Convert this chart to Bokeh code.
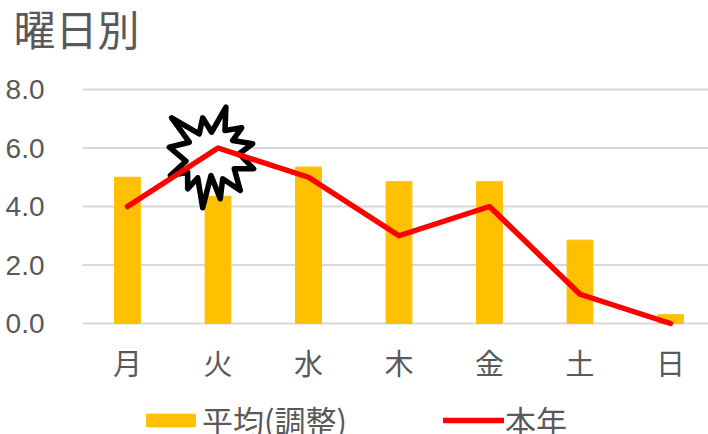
from bokeh.plotting import figure
from bokeh.embed import file_html
from bokeh.resources import INLINE
from bokeh.models import ColumnDataSource, Range1d, FixedTicker, Legend, LegendItem, Label

title_text = "曜日別"
days = ["月", "火", "水", "木", "金", "土", "日"]
avg_adjusted = [5.0, 4.35, 5.35, 4.85, 4.85, 2.85, 0.3]
this_year = [4.0, 6.0, 5.0, 3.0, 4.0, 1.0, 0.0]
y_ticks = [0, 2, 4, 6, 8]
series_names = ["平均(調整)", "本年"]
# starburst callout outline, in value units relative to its anchor (火, 5.6)
burst_dx = [-0.512, -0.207, -0.169, -0.070, 0.088, 0.077, 0.262, 0.162, 0.383, 0.235, 0.394, 0.180,
            0.246, 0.052, 0.025, -0.077, -0.169, -0.224, -0.335, -0.335, -0.527, -0.354, -0.538, -0.317]
burst_dy = [1.432, 0.885, 1.432, 0.940, 1.795, 0.998, 1.091, 0.656, 0.544, 0.202, -0.311, -0.311,
            -1.053, -0.653, -1.337, -0.540, -1.644, -0.619, -0.995, -0.427, -0.540, -0.051, 0.427, 0.598]
burst_anchor = (1, 5.6)

GREY = "#595959"
CJK = "Liberation Sans, Noto Sans CJK JP"
X_LEFT, X_RIGHT = -0.497, 6.42

p = figure(width=708, height=434, output_backend="svg", toolbar_location=None,
           x_range=Range1d(-1.403, X_RIGHT), y_range=Range1d(-3.795, 11.043),
           min_border_left=0, min_border_right=0, min_border_top=0, min_border_bottom=0)
p.outline_line_color = None
p.background_fill_color = "white"
p.border_fill_color = "white"
p.grid.visible = False

xs = list(range(len(days)))
src = ColumnDataSource(dict(x=xs, avg=avg_adjusted, yr=this_year))
p.segment(x0=[X_LEFT] * len(y_ticks), x1=[X_RIGHT] * len(y_ticks), y0=y_ticks, y1=y_ticks,
          line_color="#D9D9D9", line_width=2)
bars = p.vbar(x="x", top="avg", width=0.285, color="#FFC000", source=src)
p.patch([burst_anchor[0] + d for d in burst_dx], [burst_anchor[1] + d for d in burst_dy],
        fill_color="white", line_color="black", line_width=5.5, line_join="round")
line = p.line(x="x", y="yr", line_color="#FF0000", line_width=5.5, line_cap="round", line_join="round", source=src)

p.xaxis.fixed_location = 0
p.xaxis.ticker = FixedTicker(ticks=xs)
p.xaxis.major_label_overrides = {i: d for i, d in enumerate(days)}
p.xaxis.major_label_text_font = CJK
p.xaxis.major_label_text_font_size = "29px"
p.xaxis.major_label_text_color = GREY
p.xaxis.major_label_standoff = 20
p.xaxis.major_tick_line_color = None
p.xaxis.minor_tick_line_color = None
p.xaxis.axis_line_color = None

p.yaxis.fixed_location = X_LEFT
p.yaxis.ticker = FixedTicker(ticks=y_ticks)
p.yaxis.major_label_overrides = {t: f"{t:.1f}" for t in y_ticks}
p.yaxis.major_label_text_font = "Liberation Sans"
p.yaxis.major_label_text_font_size = "28px"
p.yaxis.major_label_text_color = GREY
p.yaxis.major_label_standoff = 32
p.yaxis.major_tick_line_color = None
p.yaxis.minor_tick_line_color = None
p.yaxis.axis_line_color = None

p.add_layout(Label(x=13, y=403, x_units="screen", y_units="screen", text=title_text, text_font=CJK,
                   text_font_size="42px", text_color=GREY, text_baseline="middle"))

legend = Legend(items=[LegendItem(label=series_names[0], renderers=[bars]),
                       LegendItem(label=series_names[1], renderers=[line])],
                orientation="horizontal", location=(140, -8),
                glyph_width=61, glyph_height=16, label_text_font="Noto Sans CJK JP", label_text_font_size="31px",
                label_text_color=GREY, label_standoff=1, spacing=96, padding=0, margin=0,
                border_line_color=None, background_fill_alpha=0)
p.add_layout(legend, "center")

open("out.html", "w").write(file_html(p, INLINE))
